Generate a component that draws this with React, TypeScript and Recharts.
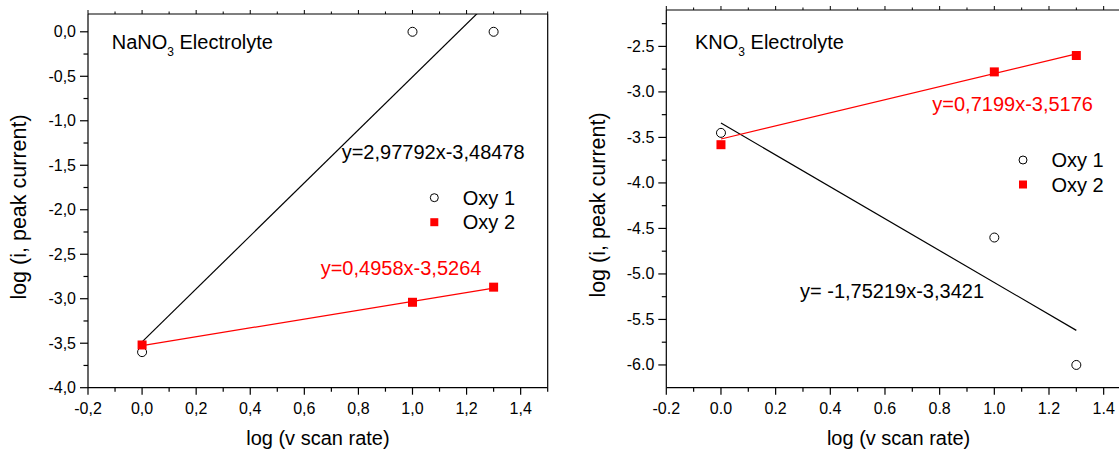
import React from "react";
import { ComposedChart, Scatter, Line, XAxis, YAxis } from "recharts";

const FONT = "'Liberation Sans', Arial, Helvetica, sans-serif";
const RED = "#ff0000";

// scan-rate positions (log v)
const scanLog = [0, 1.0, 1.3];

// NaNO3 electrolyte, log peak current
const nanoOxy1 = [-3.6, 0.0, 0.0];
const nanoOxy2 = [-3.52, -3.04, -2.87];

// KNO3 electrolyte, log peak current
const knoOxy1 = [-3.45, -4.6, -6.0];
const knoOxy2 = [-3.58, -2.78, -2.6];

// linear fits [slope, intercept]
const nanoFit1 = [2.97792, -3.48478];
const nanoFit2 = [0.4958, -3.5264];
const knoFit1 = [-1.75219, -3.3421];
const knoFit2 = [0.7199, -3.5176];
const fitRange = [0, 1.3];

// ticks
const xMajor = [-0.2, 0, 0.2, 0.4, 0.6, 0.8, 1.0, 1.2, 1.4];
const xMinor = [-0.1, 0.1, 0.3, 0.5, 0.7, 0.9, 1.1, 1.3, 1.5];
const yMajorNano = [-4, -3.5, -3, -2.5, -2, -1.5, -1, -0.5, 0];
const yMinorNano = [-3.75, -3.25, -2.75, -2.25, -1.75, -1.25, -0.75, -0.25];
const yMajorKno = [-6, -5.5, -5, -4.5, -4, -3.5, -3, -2.5];
const yMinorKno = [-5.75, -5.25, -4.75, -4.25, -3.75, -3.25, -2.75, -2.25];

const points = (ys: number[]) => scanLog.map((x, i) => ({ x, y: ys[i] }));
const fitLine = ([m, b]: number[]) => fitRange.map((x) => ({ x, y: m * x + b }));
const comma = (v: number) => String(v).replace(".", ",");
const fitLabel = ([m, b]: number[]) => `y=${m < 0 ? " " : ""}${comma(m)}x${comma(b)}`;

const isIn = (list: number[], v: number) => list.some((t) => Math.abs(t - v) < 1e-6);

const LeftTick = ({ majors, fmt }: { majors: number[]; fmt: (v: number) => string }) =>
  (props: any) => {
    const { x, y, payload } = props;
    const major = isIn(majors, payload.value);
    return (
      <g>
        <line x1={x} x2={x - (major ? 8 : 4.5)} y1={y} y2={y} stroke="#000" strokeWidth={1.2} />
        {major && (
          <text x={x - 12} y={y + 5.5} textAnchor="end" fontSize={16} fontFamily={FONT} fill="#000">
            {fmt(payload.value)}
          </text>
        )}
      </g>
    );
  };

const BottomTick = ({ fmt }: { fmt: (v: number) => string }) => (props: any) => {
  const { x, y, payload } = props;
  const major = isIn(xMajor, payload.value);
  return (
    <g>
      <line x1={x} x2={x} y1={y} y2={y + (major ? 7 : 4)} stroke="#000" strokeWidth={1.2} />
      {major && (
        <text x={x} y={y + 26} textAnchor="middle" fontSize={16} fontFamily={FONT} fill="#000">
          {fmt(payload.value)}
        </text>
      )}
    </g>
  );
};

const TopTick = (props: any) => {
  const { x, y, payload } = props;
  const major = isIn(xMajor, payload.value);
  return <line x1={x} x2={x} y1={y} y2={y - (major ? 4 : 2.5)} stroke="#000" strokeWidth={1} />;
};

const OpenCircle = (p: any) => (
  <circle cx={p.cx} cy={p.cy} r={4.5} fill="none" stroke="#000" strokeWidth={1} />
);
const RedSquare = (p: any) => (
  <rect x={p.cx - 4.5} y={p.cy - 4.5} width={9} height={9} fill={RED} />
);

interface PanelProps {
  left: number;
  width: number;
  margin: { top: number; right: number; bottom: number; left: number };
  yDomain: number[];
  yMajor: number[];
  yMinor: number[];
  fmt: (v: number) => string;
  oxy1: number[];
  oxy2: number[];
  fit1: number[];
  fit2: number[];
}

// axes are 1px thick bands so recharts still draws them; margins absorb that pixel
function Panel(p: PanelProps) {
  const xTicks = [...xMajor, ...xMinor].sort((a, b) => a - b);
  const yTicks = [...p.yMajor, ...p.yMinor].sort((a, b) => a - b);
  const axisLine = { stroke: "#000", strokeWidth: 1.2 };
  const m = p.margin;
  return (
    <div style={{ position: "absolute", left: p.left, top: 0 }}>
      <ComposedChart
        width={p.width}
        height={450}
        margin={{ top: m.top - 1, right: m.right - 1, bottom: m.bottom - 1, left: m.left - 1 }}
      >
        <XAxis
          type="number"
          dataKey="x"
          domain={[-0.2, 1.5]}
          ticks={xTicks}
          interval={0}
          height={1}
          tickSize={0}
          tickMargin={0}
          tickLine={false}
          axisLine={axisLine}
          tick={BottomTick({ fmt: p.fmt })}
          allowDataOverflow
        />
        <XAxis
          xAxisId="top"
          orientation="top"
          type="number"
          dataKey="x"
          domain={[-0.2, 1.5]}
          ticks={xTicks}
          interval={0}
          height={1}
          tickSize={0}
          tickMargin={0}
          tickLine={false}
          axisLine={axisLine}
          tick={TopTick}
          allowDataOverflow
        />
        <YAxis
          type="number"
          domain={p.yDomain}
          ticks={yTicks}
          interval={0}
          width={1}
          tickSize={0}
          tickMargin={0}
          tickLine={false}
          axisLine={axisLine}
          tick={LeftTick({ majors: p.yMajor, fmt: p.fmt })}
          allowDataOverflow
        />
        <YAxis
          yAxisId="right"
          orientation="right"
          type="number"
          domain={p.yDomain}
          width={1}
          tick={false}
          tickLine={false}
          axisLine={axisLine}
          allowDataOverflow
        />
        <Line data={fitLine(p.fit1)} dataKey="y" type="linear" stroke="#000" strokeWidth={1.2} dot={false} isAnimationActive={false} />
        <Line data={fitLine(p.fit2)} dataKey="y" type="linear" stroke={RED} strokeWidth={1.2} dot={false} isAnimationActive={false} />
        <Scatter name="Oxy 1" data={points(p.oxy1)} dataKey="y" shape={OpenCircle} isAnimationActive={false} />
        <Scatter name="Oxy 2" data={points(p.oxy2)} dataKey="y" shape={RedSquare} isAnimationActive={false} />
      </ComposedChart>
    </div>
  );
}

const txt = { fontFamily: FONT, fill: "#000" };

function Title({ x, y, salt }: { x: number; y: number; salt: string }) {
  return (
    <text x={x} y={y} fontSize={20} {...txt}>
      {salt}NO
      <tspan fontSize={12} dy={7}>3</tspan>
      <tspan dy={-7}> Electrolyte</tspan>
    </text>
  );
}

function LegendBox({ x, y }: { x: number; y: number }) {
  return (
    <g>
      <circle cx={x} cy={y} r={4} fill="none" stroke="#000" strokeWidth={1} />
      <text x={x + 28.5} y={y + 7} fontSize={20} {...txt}>Oxy 1</text>
      <rect x={x - 4} y={y + 20.5} width={8} height={8} fill={RED} />
      <text x={x + 28.5} y={y + 31.5} fontSize={20} {...txt}>Oxy 2</text>
    </g>
  );
}

export default function App() {
  return (
    <div style={{ position: "absolute", left: 0, top: 0, width: 1119, height: 450, overflow: "hidden", background: "#fff" }}>
      <Panel
        left={0}
        width={560}
        margin={{ top: 14, right: 12.3, bottom: 62.3, left: 88 }}
        yDomain={[-4, 0.2]}
        yMajor={yMajorNano}
        yMinor={yMinorNano}
        fmt={(v) => v.toFixed(1).replace(".", ",")}
        oxy1={nanoOxy1}
        oxy2={nanoOxy2}
        fit1={nanoFit1}
        fit2={nanoFit2}
      />
      <Panel
        left={580}
        width={561}
        margin={{ top: 10, right: 10, bottom: 62.3, left: 86.3 }}
        yDomain={[-6.25, -2.1]}
        yMajor={yMajorKno}
        yMinor={yMinorKno}
        fmt={(v) => v.toFixed(1)}
        oxy1={knoOxy1}
        oxy2={knoOxy2}
        fit1={knoFit1}
        fit2={knoFit2}
      />
      <svg width={1119} height={450} style={{ position: "absolute", left: 0, top: 0, pointerEvents: "none" }}>
        {/* NaNO3 panel */}
        <Title x={111.7} y={49} salt="Na" />
        <text x={341.7} y={159} fontSize={20} {...txt}>{fitLabel(nanoFit1)}</text>
        <text x={320.7} y={275} fontSize={20} {...txt} fill={RED}>{fitLabel(nanoFit2)}</text>
        <LegendBox x={434.3} y={197.7} />
        <text x={317.9} y={445} fontSize={20} textAnchor="middle" {...txt}>log (v scan rate)</text>
        <text x={26} y={207} fontSize={21.5} textAnchor="middle" transform="rotate(-90 26 207)" {...txt}>
          log (i, peak current)
        </text>

        {/* KNO3 panel */}
        <Title x={695} y={49} salt="K" />
        <text x={932.3} y={110.7} fontSize={20} {...txt} fill={RED}>{fitLabel(knoFit2)}</text>
        <text x={800} y={297.7} fontSize={20} {...txt}>{fitLabel(knoFit1)}</text>
        <LegendBox x={1023} y={160} />
        <text x={898.6} y={445} fontSize={20} textAnchor="middle" {...txt}>log (v scan rate)</text>
        <text x={604.5} y={205} fontSize={21.5} textAnchor="middle" transform="rotate(-90 604.5 205)" {...txt}>
          log (i, peak current)
        </text>
      </svg>
    </div>
  );
}
